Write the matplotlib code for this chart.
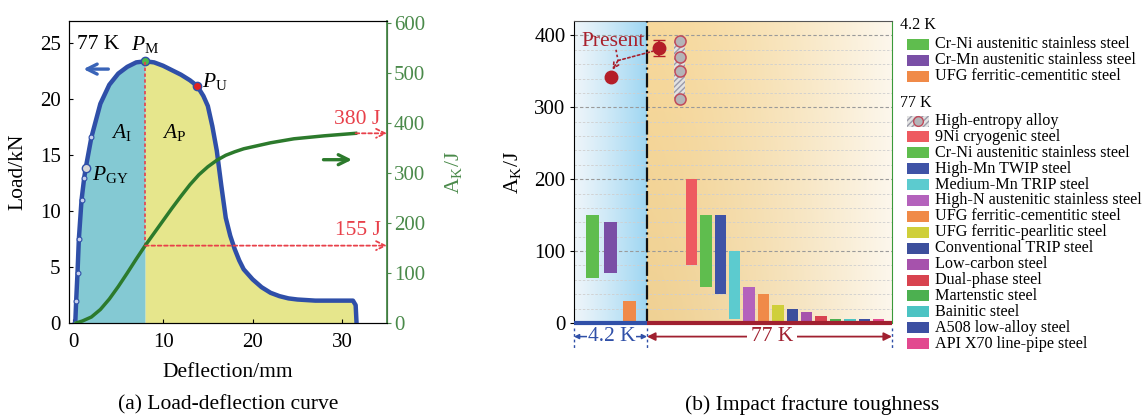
import matplotlib

matplotlib.use("Agg")
import matplotlib.pyplot as plt
import matplotlib.transforms as mtransforms
import numpy as np
from matplotlib.lines import Line2D
from matplotlib.patches import Rectangle

plt.rcParams["font.family"] = ["Liberation Serif", "DejaVu Serif"]
plt.rcParams["mathtext.fontset"] = "custom"
plt.rcParams["mathtext.rm"] = "Liberation Serif"
plt.rcParams["mathtext.it"] = "Liberation Serif:italic"

# ── (a) load-deflection data ────────────────────────────────────
DEFLECTION = [0.2, 0.3, 0.45, 0.6, 0.9, 1.2, 1.4, 2.0, 3.0, 4.0, 5.0, 6.0,
              7.0, 8.0, 9.0, 10.0, 11.0, 12.0, 13.0, 13.8, 14.5, 15.0, 15.5,
              16.0, 16.5, 17.0, 17.5, 18.0, 18.5, 19.0, 20.0, 21.0, 22.0,
              23.0, 24.0, 25.0, 27.0, 29.0, 31.2, 31.5, 31.6]
LOAD = [0, 2.0, 4.5, 7.5, 11.0, 13.0, 14.0, 16.6, 19.6, 21.3, 22.3, 22.9,
        23.3, 23.4, 23.3, 23.0, 22.6, 22.2, 21.7, 21.2, 20.3, 19.4, 17.6,
        15.4, 12.3, 9.4, 7.8, 6.6, 5.6, 4.8, 3.9, 3.2, 2.7, 2.4, 2.2, 2.1,
        2.0, 2.0, 2.0, 1.6, 0]
ENERGY_DEFL = [0.3, 1, 2, 3, 4, 5, 6, 7, 8, 9, 10, 11, 12, 13, 14, 15, 16,
               17, 18, 19, 20, 22, 24.6, 28, 31.5]
ENERGY = [0, 4, 12, 27, 48, 73, 100, 128, 155, 180, 205, 230, 254, 277, 297,
          313, 326, 336, 343, 349, 353, 361, 369, 375, 380]
P_GY = (1.4, 13.9)
P_M = (8.0, 23.4)
P_U = (13.8, 21.2)
E_AT_PM = 155
E_TOTAL = 380

# ── (b) impact toughness data ───────────────────────────────────
LOW_NAMES = ["Cr-Ni austenitic stainless steel",
             "Cr-Mn austenitic stainless steel",
             "UFG ferritic-cementitic steel"]
LOW_MIN = [63, 70, 0]
LOW_MAX = [150, 141, 30]
LOW_COLORS = ["#5fbd4e", "#7a4fa6", "#f08a48"]

HEA_NAME = "High-entropy alloy"
HEA_VALUES = [392, 370, 350, 311]

LN_NAMES = ["9Ni cryogenic steel", "Cr-Ni austenitic stainless steel",
            "High-Mn TWIP steel", "Medium-Mn TRIP steel",
            "High-N austenitic stainless steel",
            "UFG ferritic-cementitic steel", "UFG ferritic-pearlitic steel",
            "Conventional TRIP steel", "Low-carbon steel",
            "Dual-phase steel", "Martenstic steel", "Bainitic steel",
            "A508 low-alloy steel", "API X70 line-pipe steel"]
LN_MIN = [80, 50, 40, 5, 0, 0, 0, 0, 0, 0, 0, 0, 0, 0]
LN_MAX = [200, 150, 150, 100, 50, 40, 25, 20, 15, 10, 5, 5, 5, 5]
LN_COLORS = ["#ee5a60", "#5fbd4e", "#3f53a6", "#5ccbcf", "#b462bc",
             "#f08a48", "#cfcf3a", "#3c4f9c", "#a652ac", "#d8434f",
             "#4cb050", "#4cc3c3", "#3c4fa2", "#e2498f"]

PRESENT_4K = 342
PRESENT_77K = 382
PRESENT_77K_ERR = [[10], [12]]

BLUE = "#2f4fa8"
DKGREEN = "#2c7a2c"
AXGREEN = "#4a8a4a"
RED = "#e8404a"
DKRED = "#a8202c"
FS_TICK, FS_LAB, FS_ANN = 15, 15.5, 15.5

W, H = 1144, 417
fig = plt.figure(figsize=(W / 100, H / 100), dpi=100)


def fx(px):
    return px / W


def fy(py):
    return 1 - py / H


# ── Panel (a) ───────────────────────────────────────────────────
ax1 = fig.add_axes([fx(69), fy(323), 318 / W, 302 / H])
ax2 = ax1.twinx()
x = np.array(DEFLECTION)
y = np.array(LOAD)
ax1.fill_between(x, 0, y, where=x <= P_M[0], color="#84c9d3", lw=0, zorder=1)
ax1.fill_between(x, 0, y, where=x >= P_M[0], color="#e6e68c", lw=0, zorder=1)
ax1.plot(x, y, color=BLUE, lw=3.2, zorder=4, solid_capstyle="round")
ax1.plot(x[:8], y[:8], "o", ms=3.5, mfc="#c8d0ee", mec=BLUE, mew=0.8, zorder=5)
ax1.plot(*P_GY, "o", ms=6, mfc="#d8d8d8", mec=BLUE, mew=1, zorder=6)
ax1.plot(*P_M, "o", ms=6, mfc="#4cb84c", mec=BLUE, mew=1, zorder=6)
ax1.plot(*P_U, "o", ms=6, mfc="#e02020", mec=BLUE, mew=1, zorder=6)

ax1.set_xlim(-0.5, 35)
ax1.set_ylim(0, 27)
ax2.set_ylim(0, 605)
ax1.set_xticks([0, 10, 20, 30])
ax1.set_yticks([0, 5, 10, 15, 20, 25])
ax2.set_yticks(range(0, 601, 100))
ax1.tick_params(labelsize=FS_TICK, length=3, direction="in")
ax1.tick_params(axis="x", pad=7)
ax1.tick_params(axis="y", pad=6)
ax2.tick_params(labelsize=FS_TICK, length=3, colors=AXGREEN, pad=2)
for sp in ["left", "top", "bottom"]:
    ax1.spines[sp].set_color("#222222")
ax2.spines["right"].set_color(AXGREEN)
ax2.spines["right"].set_linewidth(1.3)
ax1.set_xlabel("Deflection/mm", fontsize=FS_LAB, labelpad=8)
ax1.set_ylabel("Load/kN", fontsize=FS_LAB)
ax1.yaxis.set_label_coords(-0.13, 0.5)
ax2.set_ylabel(r"A$_{\mathrm{K}}$/J", fontsize=FS_LAB, color=AXGREEN)
ax2.yaxis.set_label_coords(1.175, 0.5)

ax2.plot(ENERGY_DEFL, ENERGY, color=DKGREEN, lw=2.5, zorder=3)
ax2.plot([P_M[0], P_M[0]], [E_AT_PM, P_M[1] * 605 / 27], ls=(0, (2, 1.5)),
         color=RED, lw=1.2)
for xs, ev in [(P_M[0], E_AT_PM), (ENERGY_DEFL[-1], E_TOTAL)]:
    ax2.annotate("", xy=(35, ev), xytext=(xs, ev),
                 arrowprops=dict(arrowstyle="->", ls=(0, (2, 1.5)), color=RED,
                                 lw=1.3, shrinkA=0, shrinkB=0,
                                 mutation_scale=16),
                 annotation_clip=False)
ax2.text(34.3, E_TOTAL + 27, "380 J", color=RED, fontsize=FS_ANN, ha="right",
         va="center")
ax2.text(34.3, E_AT_PM + 30, "155 J", color=RED, fontsize=FS_ANN,
         ha="right", va="center")
ax1.annotate("", xy=(0.8, 22.7), xytext=(4.2, 22.7),
             arrowprops=dict(arrowstyle="->", color="#3a64b8", lw=2.4,
                             mutation_scale=18))
ax1.annotate("", xy=(31.4, 14.6), xytext=(27.6, 14.6),
             arrowprops=dict(arrowstyle="->", color=DKGREEN, lw=2.4,
                             mutation_scale=18))
ax1.text(0.4, 24.9, "77 K", fontsize=FS_ANN, va="center")
ax1.text(P_M[0], 24.9, r"$P_{\mathrm{M}}$", fontsize=FS_ANN, ha="center",
         va="center")
ax1.text(14.4, 21.6, r"$P_{\mathrm{U}}$", fontsize=FS_ANN, va="center")
ax1.text(2.1, 13.3, r"$P_{\mathrm{GY}}$", fontsize=FS_ANN, va="center")
ax1.text(5.3, 17.0, r"$A_{\mathrm{I}}$", fontsize=FS_ANN, ha="center",
         va="center")
ax1.text(11.2, 17.0, r"$A_{\mathrm{P}}$", fontsize=FS_ANN, ha="center",
         va="center")

fig.text(fx(228), fy(405), "(a) Load-deflection curve", fontsize=FS_LAB,
         ha="center", va="center")

# ── Panel (b) ───────────────────────────────────────────────────
ax = fig.add_axes([fx(574), fy(323), 318 / W, 302 / H])
XMAX, DIV = 318, 73
ax.set_xlim(0, XMAX)
ax.set_ylim(0, 420)

# gradient backgrounds
t = np.linspace(0, 1, 200)[None, :, None]
v = np.linspace(0, 1, 60)[:, None, None]
c0, c1 = np.array([0.93, 0.96, 0.98]), np.array([0.62, 0.84, 0.95])
blue_bg = c0 + (c1 - c0) * t ** 1.2 + 0 * v
ax.imshow(np.clip(blue_bg, 0, 1), extent=(0, DIV, 0, 420), aspect="auto",
          origin="lower", zorder=0, interpolation="bilinear")
c0, c1 = np.array([0.94, 0.82, 0.58]), np.array([0.99, 0.97, 0.93])
tan_bg = c0 + (c1 - c0) * t ** 1.4 + 0.03 * v * (1 - t)
ax.imshow(np.clip(tan_bg, 0, 1), extent=(DIV, XMAX, 0, 420), aspect="auto",
          origin="lower", zorder=0, interpolation="bilinear")

ax.set_yticks(range(0, 401, 100))
ax.set_yticks(range(0, 420, 20), minor=True)
ax.grid(True, which="major", axis="y", ls=(0, (3, 2)), color="#9a9a9a",
        lw=0.8, zorder=1)
ax.grid(True, which="minor", axis="y", ls=(0, (3, 2)), color="#cfcfcf",
        lw=0.6, zorder=1)
ax.set_xticks([])
ax.tick_params(labelsize=FS_TICK, length=3, pad=3)
ax.tick_params(which="minor", length=0)
ax.spines["bottom"].set_visible(False)
ax.spines["right"].set_color("#3a9a3a")
ax.spines["top"].set_color("#555555")
ax.set_ylabel(r"A$_{\mathrm{K}}$/J", fontsize=FS_LAB)
ax.yaxis.set_label_coords(-0.16, 0.5)

low_x = 18.5 + 18.3 * np.arange(len(LOW_NAMES))
ax.bar(low_x, np.array(LOW_MAX) - np.array(LOW_MIN), bottom=LOW_MIN,
       width=13, color=LOW_COLORS, lw=0, zorder=3)
ln_x = 117.5 + 14.4 * np.arange(len(LN_NAMES))
ax.bar(ln_x, np.array(LN_MAX) - np.array(LN_MIN), bottom=LN_MIN, width=11.5,
       color=LN_COLORS, lw=0, zorder=3)

hea_x = 105.5
ax.bar(hea_x, max(HEA_VALUES) - min(HEA_VALUES), bottom=min(HEA_VALUES),
       width=11, color="#e2e2e2", edgecolor="#9a9aa8", hatch="//////", lw=0,
       zorder=3)
ax.plot([hea_x] * len(HEA_VALUES), HEA_VALUES, "o", ms=8, mfc="#b4b4b8",
        mec="#c04a5a", mew=1.1, zorder=4)

ax.axvline(DIV, color="#111111", lw=1.6, ls="-.", zorder=5)

# present work
ax.plot(36.7, PRESENT_4K, "o", ms=9, color="#b41e28", zorder=6)
ax.errorbar(85.3, PRESENT_77K, yerr=PRESENT_77K_ERR, fmt="o", ms=9,
            color="#b41e28", capsize=4, elinewidth=1.2, zorder=6)
ax.text(7, 391, "Present", fontsize=FS_ANN, color=DKRED, va="center",
        zorder=7)
ax.plot([42, 44], [380, 365], ls=(0, (1.5, 1.5)), color=DKRED, lw=1.2,
        zorder=6)
ax.annotate("", xy=(38.5, 352), xytext=(44, 365),
            arrowprops=dict(arrowstyle="->", ls=(0, (1.5, 1.5)), color=DKRED,
                            lw=1.2, shrinkA=0, shrinkB=0), zorder=6)
ax.annotate("", xy=(79, 378), xytext=(44, 365),
            arrowprops=dict(arrowstyle="-", ls=(0, (1.5, 1.5)), color=DKRED,
                            lw=1.2, shrinkA=0, shrinkB=0), zorder=6)

# temperature bands below the axis
blend = mtransforms.blended_transform_factory(ax.transData, ax.transAxes)
LBLUE, LRED = "#3050a8", "#a02030"
ax.plot([0, DIV], [0, 0], transform=blend, color=LBLUE, lw=3, clip_on=False,
        zorder=7, solid_capstyle="butt")
ax.plot([DIV, XMAX], [0, 0], transform=blend, color=LRED, lw=3,
        clip_on=False, zorder=7, solid_capstyle="butt")
for xv in [0, DIV, XMAX]:
    ax.plot([xv, xv], [-0.015, -0.09], transform=blend, color=LBLUE, lw=1,
            ls=(0, (2, 2)), clip_on=False)
ax.annotate("", xy=(0, -0.045), xytext=(DIV, -0.045), xycoords=blend,
            arrowprops=dict(arrowstyle="<|-|>", color=LBLUE, lw=1.1,
                            shrinkA=0, shrinkB=0, mutation_scale=7),
            annotation_clip=False)
ax.text(DIV / 2 + 1, -0.045, "4.2 K", transform=blend, fontsize=FS_ANN,
        color=LBLUE, ha="center", va="center",
        bbox=dict(fc="white", ec="none", pad=0.3))
ax.annotate("", xy=(DIV, -0.045), xytext=(XMAX, -0.045), xycoords=blend,
            arrowprops=dict(arrowstyle="<|-|>", color=LRED, lw=1.3,
                            shrinkA=0, shrinkB=0, mutation_scale=12),
            annotation_clip=False)
ax.text(198, -0.045, "77 K", transform=blend, fontsize=FS_ANN, color=LRED,
        ha="center", va="center",
        bbox=dict(fc="white", ec="none", pad=3))

fig.text(fx(812), fy(405), "(b) Impact fracture toughness", fontsize=FS_LAB,
         ha="center", va="center")

# ── legend ──────────────────────────────────────────────────────
LEG_X, SW_W, SW_H, TXT_X = 907, 22, 11, 935
FS_LEG = 11.6


def swatch(py, color, hatch=None):
    fig.add_artist(Rectangle((fx(LEG_X), fy(py + SW_H / 2)), SW_W / W,
                             SW_H / H, transform=fig.transFigure,
                             facecolor=color, edgecolor="#9a9aa8" if hatch
                             else "none", hatch=hatch, lw=0))


fig.text(fx(900), fy(25), "4.2 K", fontsize=FS_LEG, va="center")
for i, (name, col) in enumerate(zip(LOW_NAMES, LOW_COLORS)):
    py = 44 + 16.2 * i
    swatch(py, col)
    fig.text(fx(TXT_X), fy(py), name, fontsize=FS_LEG, va="center")

fig.text(fx(900), fy(103), "77 K", fontsize=FS_LEG, va="center")
swatch(121, "#e4e4e4", hatch="//////")
fig.add_artist(Line2D([fx(LEG_X + SW_W / 2)], [fy(121)], marker="o", ms=7,
                      mfc="#b4b4b8", mec="#c04a5a", mew=1,
                      transform=fig.transFigure))
fig.text(fx(TXT_X), fy(121), HEA_NAME, fontsize=FS_LEG, va="center")
for i, (name, col) in enumerate(zip(LN_NAMES, LN_COLORS)):
    py = 121 + 15.9 * (i + 1)
    swatch(py, col)
    fig.text(fx(TXT_X), fy(py), name, fontsize=FS_LEG, va="center")

fig.savefig("out.png", dpi=100)
